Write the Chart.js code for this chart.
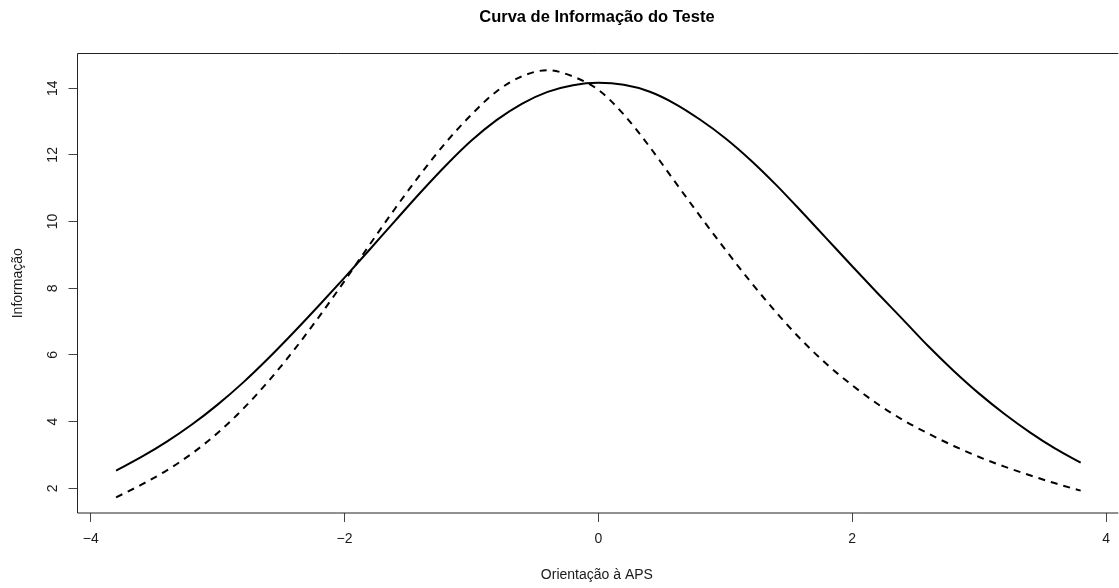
<!DOCTYPE html>
<html>
<head>
<meta charset="utf-8">
<script src="https://cdn.jsdelivr.net/npm/chart.js@4/dist/chart.umd.min.js"></script>
<style>
  html, body { margin: 0; padding: 0; background: #fff; overflow: hidden; }
  #wrap { width: 1119px; height: 588px; }
</style>
</head>
<body>
<div id="wrap"><canvas id="c" width="1119" height="588"></canvas></div>
<script>
// theta values
const theta = [-3.8, -3.6, -3.4, -3.2, -3.0, -2.8, -2.6, -2.4, -2.2, -2.0,
               -1.8, -1.6, -1.4, -1.2, -1.0, -0.8, -0.6, -0.4, -0.2, 0.0,
                0.2,  0.4,  0.6,  0.8,  1.0,  1.2,  1.4,  1.6,  1.8, 2.0,
                2.2,  2.4,  2.6,  2.8,  3.0,  3.2,  3.4,  3.6,  3.8];

// solid curve
const infoSolid = [2.53, 2.94, 3.40, 3.92, 4.51, 5.17, 5.90, 6.68, 7.49, 8.32,
                   9.17, 10.03, 10.88, 11.69, 12.43, 13.05, 13.54, 13.89, 14.09, 14.16,
                   14.10, 13.90, 13.54, 13.06, 12.50, 11.84, 11.10, 10.30, 9.48, 8.66,
                   7.85, 7.06, 6.26, 5.52, 4.84, 4.23, 3.68, 3.19, 2.77];

// dashed curve
const infoDashed = [1.73, 2.11, 2.54, 3.05, 3.66, 4.38, 5.21, 6.14, 7.15, 8.22,
                    9.32, 10.40, 11.43, 12.38, 13.21, 13.91, 14.36, 14.54, 14.35, 13.95,
                    13.21, 12.26, 11.21, 10.17, 9.16, 8.19, 7.28, 6.45, 5.72, 5.09,
                    4.53, 4.05, 3.64, 3.27, 2.94, 2.65, 2.39, 2.15, 1.93];

const xTicks = [-4, -2, 0, 2, 4];
const yTicks = [2, 4, 6, 8, 10, 12, 14];

const txt = '#1a1a1a';
const fontFam = '"Liberation Sans", Arial, Helvetica, sans-serif';
const minus = v => String(v).replace('-', '\u2212');

// box (top, left, bottom) + rotated y labels like base R
const rBox = {
  id: 'rBox',
  afterDraw(chart) {
    const ctx = chart.ctx;
    const a = chart.chartArea;
    ctx.save();
    ctx.strokeStyle = '#222';
    ctx.lineWidth = 1;
    ctx.beginPath();
    ctx.moveTo(a.right + 2, a.top);
    ctx.lineTo(a.left, a.top);
    ctx.lineTo(a.left, a.bottom);
    ctx.lineTo(a.right + 2, a.bottom);
    ctx.stroke();

    const ys = chart.scales.y;
    ctx.fillStyle = txt;
    ctx.font = '14px ' + fontFam;
    ctx.textAlign = 'center';
    ctx.textBaseline = 'alphabetic';
    yTicks.forEach(v => {
      ctx.save();
      ctx.translate(57, ys.getPixelForValue(v));
      ctx.rotate(-Math.PI / 2);
      ctx.fillText(minus(v), 0, 0);
      ctx.restore();
    });
    ctx.restore();
  }
};

const ctx = document.getElementById('c');
const chart = new Chart(ctx, {
  type: 'scatter',
  data: {
    datasets: [{
      data: theta.map((t, i) => ({x: t, y: infoSolid[i]})),
      showLine: true,
      borderColor: '#000',
      borderWidth: 2,
      pointRadius: 0,
      cubicInterpolationMode: 'monotone'
    }, {
      data: theta.map((t, i) => ({x: t, y: infoDashed[i]})),
      showLine: true,
      borderColor: '#000',
      borderWidth: 2,
      borderDash: [7, 6],
      pointRadius: 0,
      cubicInterpolationMode: 'monotone'
    }]
  },
  options: {
    responsive: false,
    animation: false,
    layout: { padding: 0 },
    plugins: {
      legend: { display: false },
      tooltip: { enabled: false },
      title: {
        display: true,
        text: 'Curva de Informação do Teste',
        fullSize: false,
        color: '#000',
        font: { family: fontFam, size: 16.5, weight: 'bold' },
        padding: { top: 8, bottom: 25.7 }
      }
    },
    scales: {
      x: {
        type: 'linear',
        min: -4.104,
        max: 4.0806,
        afterBuildTicks: s => { s.ticks = xTicks.map(v => ({value: v})); },
        afterFit: s => { s.height = 75; },
        grid: { display: true, drawOnChartArea: false, drawTicks: true, tickLength: 9, color: '#444' },
        border: { display: false },
        ticks: { color: txt, padding: 9, font: { family: fontFam, size: 14 }, maxRotation: 0, callback: v => minus(v) },
        title: {
          display: true,
          text: 'Orientação à APS',
          color: txt,
          font: { family: fontFam, size: 14 },
          padding: { top: 0, bottom: 4.5 }
        }
      },
      y: {
        type: 'linear',
        min: 1.26,
        max: 15.04,
        afterBuildTicks: s => { s.ticks = yTicks.map(v => ({value: v})); },
        afterFit: s => { s.width = 77.5; },
        grid: { display: true, drawOnChartArea: false, drawTicks: true, tickLength: 9, color: '#444' },
        border: { display: false },
        ticks: { display: false },
        title: {
          display: true,
          text: 'Informação',
          color: txt,
          font: { family: fontFam, size: 14 },
          padding: { top: 9.6, bottom: 0 }
        }
      }
    }
  },
  plugins: [rBox]
});
</script>
</body>
</html>
